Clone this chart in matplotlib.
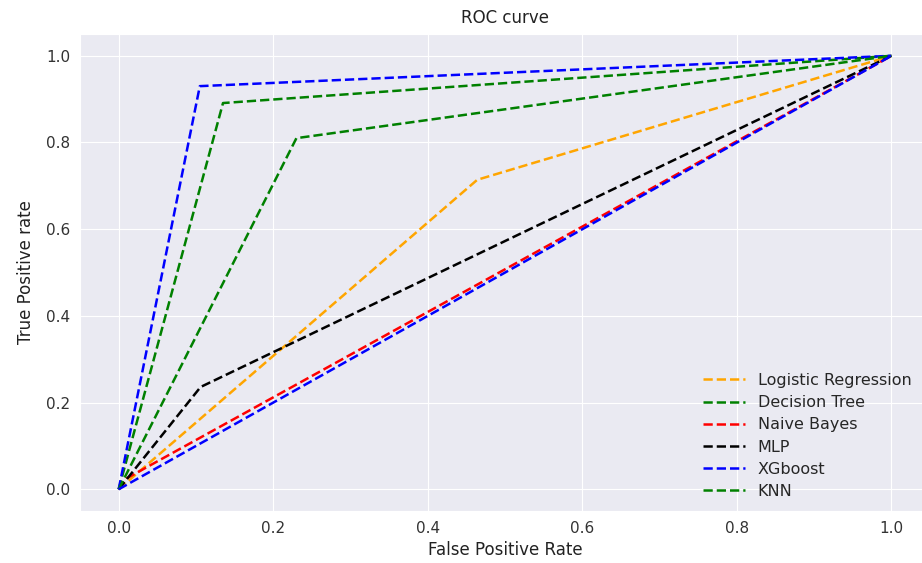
import matplotlib
matplotlib.use("Agg")
import matplotlib.pyplot as plt
import seaborn as sns

# ROC points (fpr, tpr)
lr_fpr = [0.0, 0.464, 1.0]
lr_tpr = [0.0, 0.714, 1.0]
dt_fpr = [0.0, 0.135, 1.0]
dt_tpr = [0.0, 0.891, 1.0]
nb_fpr = [0.0, 0.01, 1.0]
nb_tpr = [0.0, 0.025, 1.0]
mlp_fpr = [0.0, 0.106, 1.0]
mlp_tpr = [0.0, 0.236, 1.0]
xgb_fpr = [0.0, 0.105, 1.0]
xgb_tpr = [0.0, 0.930, 1.0]
knn_fpr = [0.0, 0.230, 1.0]
knn_tpr = [0.0, 0.810, 1.0]
chance = [0.0, 1.0]

sns.set_style("darkgrid")
plt.rcParams["font.family"] = ["DejaVu Sans"]

fig = plt.figure(figsize=(9.22, 5.63), dpi=100)
ax = fig.add_axes([0.0868, 0.0924, 0.922, 0.847])

lw = 1.8
ax.plot(lr_fpr, lr_tpr, linestyle="--", lw=lw, color="orange", label="Logistic Regression")
ax.plot(dt_fpr, dt_tpr, linestyle="--", lw=lw, color="green", label="Decision Tree")
ax.plot(nb_fpr, nb_tpr, linestyle="--", lw=lw, color="red", label="Naive Bayes")
ax.plot(mlp_fpr, mlp_tpr, linestyle="--", lw=lw, color="black", label="MLP")
ax.plot(xgb_fpr, xgb_tpr, linestyle="--", lw=lw, color="blue", label="XGboost")
ax.plot(knn_fpr, knn_tpr, linestyle="--", lw=lw, color="green", label="KNN")
ax.plot(chance, chance, linestyle="--", lw=lw, color="blue")

ax.set_title("ROC curve", fontsize=12, color="#222222", pad=8)
ax.set_xlabel("False Positive Rate", fontsize=12, color="#222222")
ax.set_ylabel("True Positive rate", fontsize=12, color="#222222", labelpad=8)
ax.tick_params(labelsize=11, labelcolor="#333333")
ax.legend(loc="lower right", frameon=False, fontsize=11.5, handlelength=2.6,
          labelspacing=0.45, bbox_to_anchor=(0.995, -0.005))

fig.savefig("out.png", dpi=100)
